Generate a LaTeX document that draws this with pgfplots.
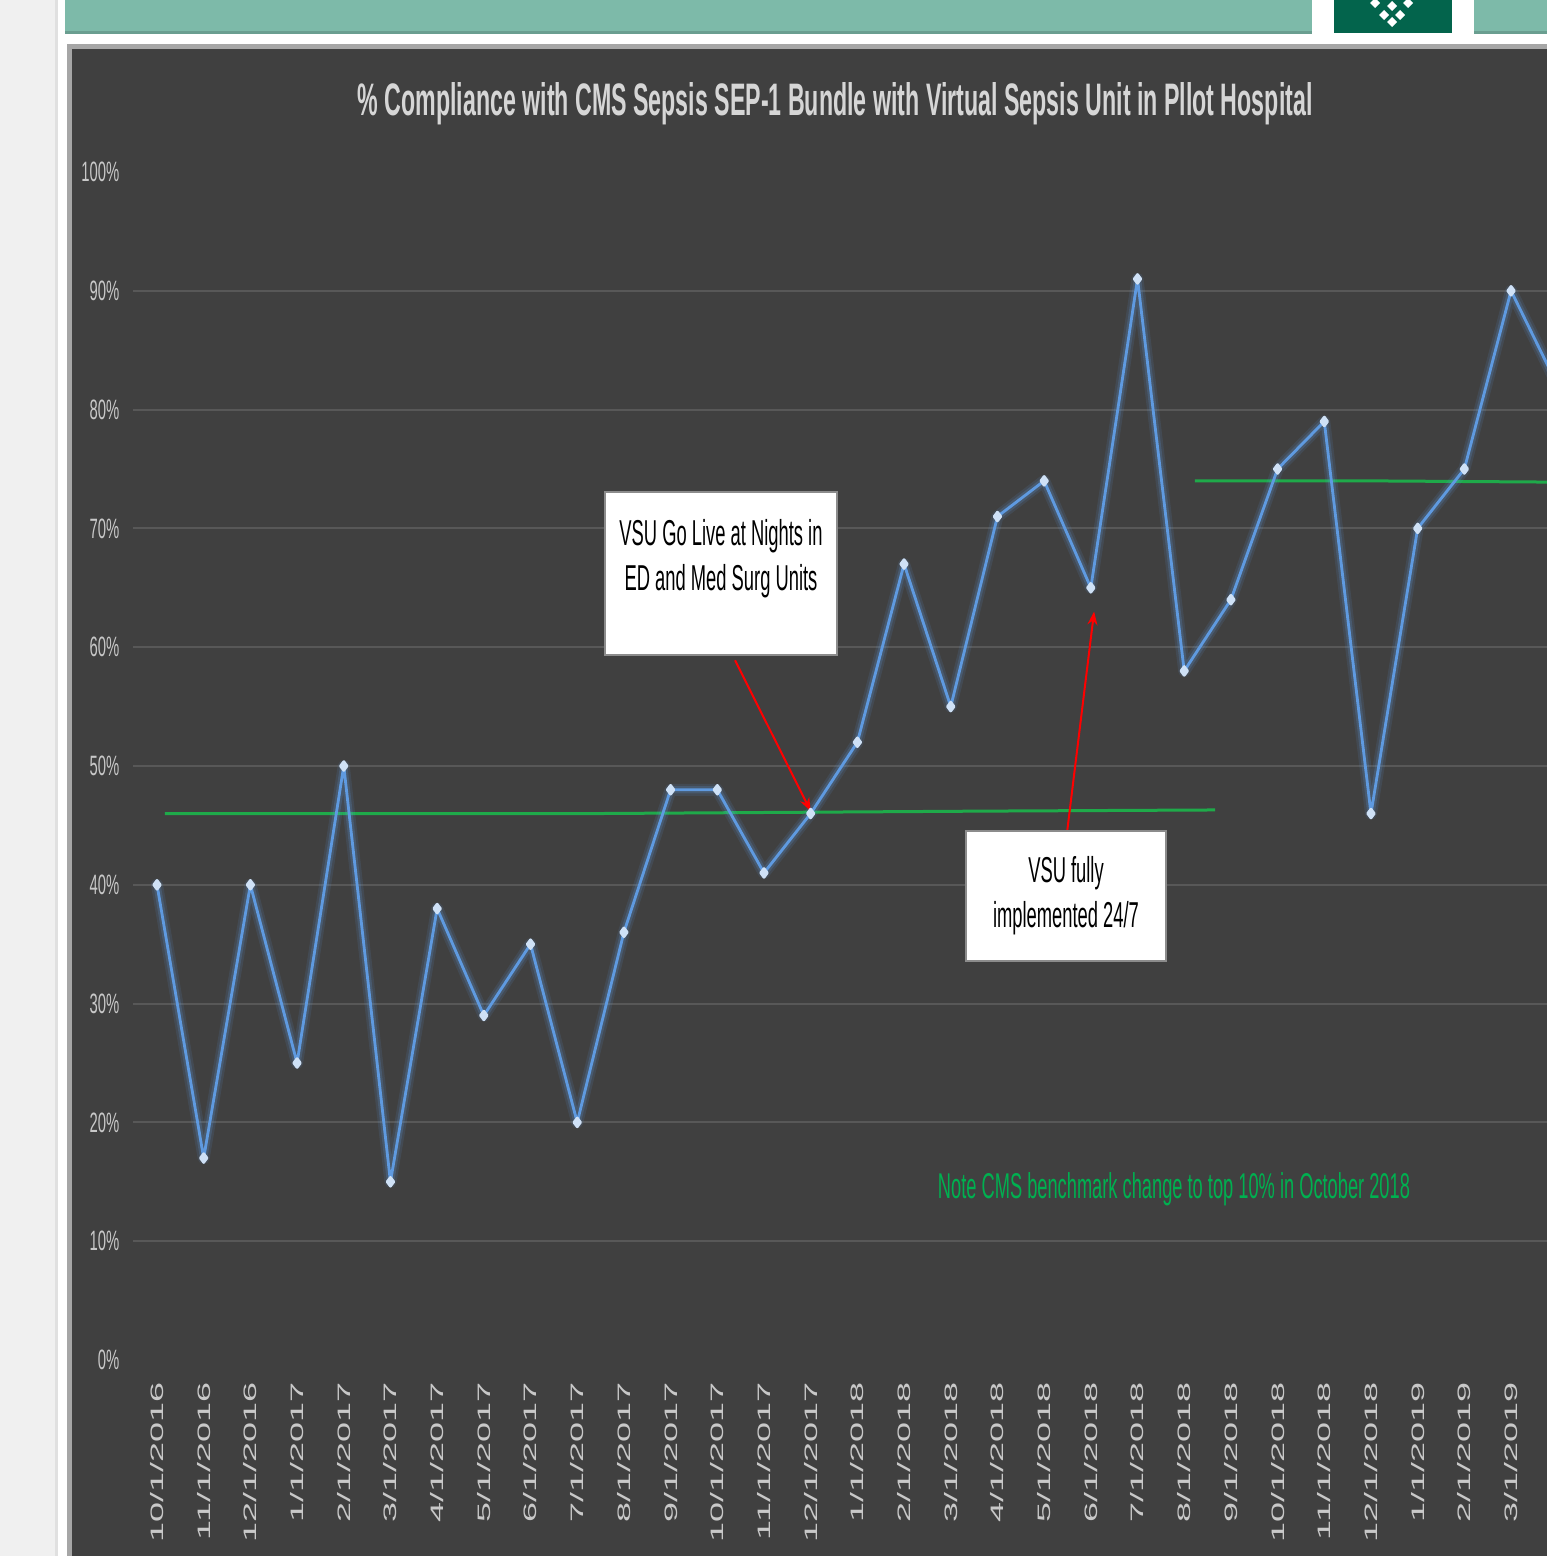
\documentclass[border=0pt]{standalone}
\usepackage{graphicx}
\usepackage{pgfplots}
\pgfplotsset{compat=1.18}
\usepackage{pgfplotstable}
\usetikzlibrary{arrows.meta}
\usepackage{fontspec}
\setmainfont{Liberation Sans}
\newfontfamily\ylabfont[FakeStretch=0.53]{Liberation Sans}
\newfontfamily\xlabfont[FakeStretch=2]{Liberation Sans}
\newfontfamily\annfont[FakeStretch=0.51]{Liberation Sans}
\definecolor{bg}{HTML}{404040}
\definecolor{gridc}{HTML}{585858}
\definecolor{lab}{HTML}{C8C8C8}
\definecolor{ttl}{HTML}{D6D6D6}
\definecolor{blu}{HTML}{5F9AE0}
\definecolor{grn}{HTML}{1FAA4A}
\definecolor{notec}{HTML}{00B050}
\definecolor{tealc}{HTML}{7DBAA9}
\definecolor{logoc}{HTML}{03644C}

\pgfplotstableread{
x y
0 40
1 17
2 40
3 25
4 50
5 15
6 38
7 29
8 35
9 20
10 36
11 48
12 48
13 41
14 46
15 52
16 67
17 55
18 71
19 74
20 65
21 91
22 58
23 64
24 75
25 79
26 46
27 70
28 75
29 90
30 82
}\compliance

\begin{document}
\begin{tikzpicture}[x=0.3pt,y=0.3pt]
\useasboundingbox (0,0) rectangle (1547,-1556);
\begin{scope}[yscale=-1]
\fill[white] (0,0) rectangle (1547,1556);
\fill[black!6] (0,0) rectangle (56,1556);
\fill[black!12] (55,0) rectangle (58,1556);
\fill[tealc] (65,0) rectangle (1312,32);
\fill[tealc] (1474,0) rectangle (1547,32);
\fill[tealc!85!black] (65,31) rectangle (1312,34);
\fill[tealc!85!black] (1474,31) rectangle (1547,34);
\fill[logoc] (1334,0) rectangle (1452,33);
\foreach \a/\b in {1375/3,1392/6,1408/3,1384/15,1400/15,1392/22}{
  \fill[white] (\a,\b-5) -- (\a+5,\b) -- (\a,\b+5) -- (\a-5,\b) -- cycle;}
\fill[black!35] (67,44) rectangle (1547,1556);
\fill[bg] (72,49) rectangle (1547,1556);
\node[font=\bfseries, text=ttl, inner sep=0pt] at (835,104)
  {\resizebox{286.5pt}{9.9pt}{\% Compliance with CMS Sepsis SEP-1 Bundle with Virtual Sepsis Unit in Pllot Hospital}};
\end{scope}
\begin{axis}[
  at={(39.9pt,-408pt)}, anchor=south west,
  scale only axis, width=424.2pt, height=356.4pt,
  xmin=-0.514, xmax=29.77, ymin=0, ymax=100,
  axis line style={draw=none},
  major tick length=0pt,
  ytick={0,10,...,100},
  yticklabels={0\%,10\%,20\%,30\%,40\%,50\%,60\%,70\%,80\%,90\%,100\%},
  yticklabel style={font=\ylabfont\fontsize{8.4pt}{9pt}\selectfont, text=lab, inner sep=0pt, anchor=east, xshift=-3.9pt},
  xtick={0,...,29},
  xticklabels={10/1/2016,11/1/2016,12/1/2016,1/1/2017,2/1/2017,3/1/2017,4/1/2017,5/1/2017,6/1/2017,7/1/2017,8/1/2017,9/1/2017,10/1/2017,11/1/2017,12/1/2017,1/1/2018,2/1/2018,3/1/2018,4/1/2018,5/1/2018,6/1/2018,7/1/2018,8/1/2018,9/1/2018,10/1/2018,11/1/2018,12/1/2018,1/1/2019,2/1/2019,3/1/2019},
  xticklabel style={rotate=90, anchor=east, inner sep=0pt, font=\xlabfont\fontsize{5.4pt}{6pt}\selectfont, text=lab},
  xticklabel shift=6.6pt,
  clip=true,
]
\foreach \g in {10,20,...,90}{
  \edef\tmp{\noexpand\draw[gridc, line width=0.6pt] (axis cs:-0.514,\g) -- (axis cs:29.77,\g);}\tmp}
\addplot[grn, line width=0.9pt, forget plot] coordinates {(0.17,46) (9.5,46) (17.6,46.2) (22.66,46.3)};
\addplot[grn, line width=0.9pt, forget plot] coordinates {(22.23,74) (26,74) (29.77,73.9)};
\addplot[blu, opacity=0.12, line width=3.6pt, line join=round, line cap=round, forget plot] table[x=x,y=y] {\compliance};
\addplot[blu, opacity=0.2, line width=2.2pt, line join=round, line cap=round, forget plot] table[x=x,y=y] {\compliance};
\addplot[blu, line width=0.85pt, line join=round, mark=diamond*, mark size=1.3pt, mark options={fill=blu!30!white, draw=blu!30!white}] table[x=x,y=y] {\compliance};
\draw[red, line width=0.6pt, -{Stealth[length=4pt,width=3pt]}] (axis cs:12.38,58.9) -- (axis cs:14,46.2);
\draw[red, line width=0.6pt, -{Stealth[length=4pt,width=3pt]}] (axis cs:19.49,44.4) -- (axis cs:20.07,63.0);
\end{axis}
\begin{scope}[yscale=-1]
\fill[black!45] (604,491) rectangle (838,656);
\fill[white] (606,493) rectangle (836,654);
\node[font=\annfont\fontsize{10.8pt}{13.5pt}\selectfont, align=center, text=black] at (721,559) {VSU Go Live at Nights in\\ED and Med Surg Units};
\fill[black!45] (965,830) rectangle (1167,962);
\fill[white] (967,832) rectangle (1165,960);
\node[font=\annfont\fontsize{10.8pt}{13.5pt}\selectfont, align=center, text=black] at (1066,896) {VSU fully\\implemented 24/7};
\node[text=notec, inner sep=0pt] at (1174,1189) {\resizebox{141.6pt}{!}{\annfont\fontsize{10pt}{12pt}\selectfont Note CMS benchmark change to top 10\% in October 2018}};
\end{scope}
\end{tikzpicture}
\end{document}
